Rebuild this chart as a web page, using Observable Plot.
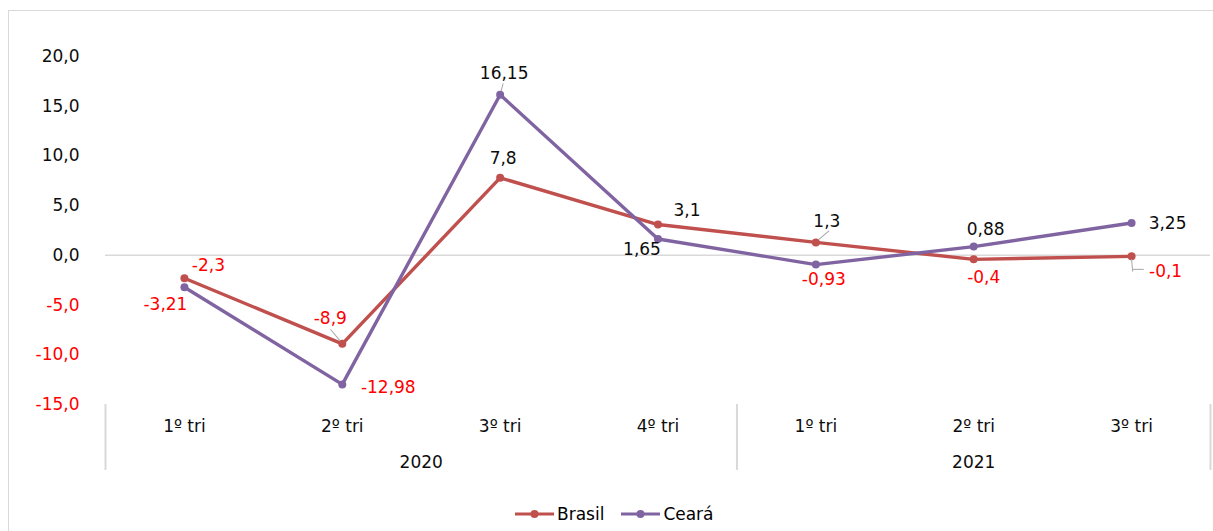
<!DOCTYPE html>
<html>
<head>
<meta charset="utf-8">
<script src="https://cdn.jsdelivr.net/npm/d3@7"></script>
<script src="https://cdn.jsdelivr.net/npm/@observablehq/plot@0.6"></script>
<style>
  html, body { margin: 0; padding: 0; background: #fff; width: 1213px; height: 531px; overflow: hidden; font-family: "DejaVu Sans", sans-serif; }
  #frame { position: absolute; left: 8px; top: 10px; width: 1300px; height: 600px; border-left: 1px solid #d9d9d9; border-top: 1px solid #d9d9d9; }
  #chart { position: absolute; left: 0; top: 0; }
  #legend { position: absolute; left: 515px; top: 504px; display: flex; align-items: center; font-size: 17px; color: #000; }
  #legend .item { display: flex; align-items: center; margin-right: 17px; }
  #legend svg { margin-right: 3px; }
</style>
</head>
<body>
<div id="frame"></div>
<div id="chart"></div>
<div id="legend"></div>
<script>
// Quarterly variation (%), Brasil vs Ceará
const quarters = ["1º tri", "2º tri", "3º tri", "4º tri", "1º tri", "2º tri", "3º tri"];
const years = ["2020", "2020", "2020", "2020", "2021", "2021", "2021"];
const brasil = [-2.3, -8.9, 7.8, 3.1, 1.3, -0.4, -0.1];
const ceara = [-3.21, -12.98, 16.15, 1.65, -0.93, 0.88, 3.25];
const yTicks = [-15, -10, -5, 0, 5, 10, 15, 20];
const seriesNames = ["Brasil", "Ceará"];
const seriesColors = ["#C0504D", "#8064A2"];

// Label placement: pixel offsets of each value label from its point
const brasilLabelOffsets = [[24, -13], [-12, -25], [3, -19], [29, -14], [11, -21], [10, 18], [34, 15]];
const cearaLabelOffsets = [[-19, 17], [46, 3], [4, -21], [-16, 11], [8, 15], [12, -17], [36, 1]];

// Thin leader lines from a few labels to their points
const leaders = [
  {series: "Brasil", i: 1, dx: -3, dy: -4, rotate: -40, length: 11},
  {series: "Ceará", i: 2, dx: 1, dy: -4, rotate: 15, length: 6},
  {series: "Brasil", i: 4, dx: 3, dy: -3, rotate: 50, length: 11},
  {series: "Brasil", i: 6, dx: 0, dy: 3, rotate: 175, length: 10},
  {series: "Brasil", i: 6, dx: 1, dy: 13, rotate: 90, length: 9}
];

const seriesValues = {Brasil: brasil, "Ceará": ceara};
const labelOffsets = {Brasil: brasilLabelOffsets, "Ceará": cearaLabelOffsets};
const colorOf = Object.fromEntries(seriesNames.map((s, k) => [s, seriesColors[k]]));

const rows = quarters.map((q, i) => ({i, q, year: years[i]}));
const points = seriesNames.flatMap(s => seriesValues[s].map((v, i) => ({series: s, i, v})));

// Year groups: span of quarter indexes per year
const yearGroups = d3.groups(rows, d => d.year).map(([year, rs]) => ({
  year, start: rs[0].i - 0.5, end: rs[rs.length - 1].i + 0.5, mid: (rs[0].i + rs[rs.length - 1].i) / 2
}));
const separators = [...new Set(yearGroups.flatMap(g => [g.start, g.end]))];

const fmtTick = d => d3.format(".1f")(d).replace(".", ",").replace("−", "-");
const fmtVal = v => String(v).replace(".", ",");
const red = "#FF0000";
const ink = "#0d0d0d";

const labelMarks = points.map(p => {
  const [dx, dy] = labelOffsets[p.series][p.i];
  return Plot.text([p], {
    x: "i", y: "v", text: d => fmtVal(d.v), dx, dy,
    fill: p.v < 0 ? red : ink, fontSize: 17
  });
});

const leaderShape = {draw(context, l) { context.moveTo(0, 0); context.lineTo(0, -l); }};
const leaderMarks = leaders.map(l => Plot.vector([{i: l.i, v: seriesValues[l.series][l.i]}], {
  x: "i", y: "v", length: () => l.length, rotate: () => l.rotate, anchor: "start",
  shape: leaderShape, dx: l.dx, dy: l.dy, stroke: "#a6a6a6", strokeWidth: 1
}));

const chart = Plot.plot({
  width: 1213,
  height: 490,
  marginTop: 56,
  marginBottom: 86,
  marginLeft: 105,
  marginRight: 3,
  x: {type: "linear", domain: [-0.5, quarters.length - 0.5], axis: null},
  y: {domain: [yTicks[0], yTicks[yTicks.length - 1]], axis: null},
  style: {fontFamily: "DejaVu Sans", fontSize: "17px", background: "transparent", overflow: "visible"},
  marks: [
    // zero line
    Plot.ruleY([0], {stroke: "#d9d9d9", strokeWidth: 1.5}),
    // y tick labels
    Plot.text(yTicks, {
      y: d => d, text: fmtTick, frameAnchor: "left", textAnchor: "end", dx: -26,
      fill: d => d < 0 ? red : ink, fontSize: 17
    }),
    // group separators below the plot
    Plot.ruleX(separators, {x: d => d, stroke: "#d9d9d9", strokeWidth: 2, insetTop: 348, insetBottom: -66}),
    // quarter labels and year labels
    Plot.text(rows, {x: "i", text: "q", frameAnchor: "bottom", lineAnchor: "middle", dy: 22, fill: ink, fontSize: 17}),
    Plot.text(yearGroups, {x: "mid", text: "year", frameAnchor: "bottom", lineAnchor: "middle", dy: 58, fill: ink, fontSize: 17}),
    // series lines and markers
    Plot.line(points, {x: "i", y: "v", z: "series", stroke: d => colorOf[d.series], strokeWidth: 3.4}),
    Plot.dot(points, {x: "i", y: "v", fill: d => colorOf[d.series], r: 4}),
    ...leaderMarks,
    ...labelMarks
  ]
});
document.getElementById("chart").appendChild(chart);

// Legend
const legend = document.getElementById("legend");
seriesNames.forEach((s, k) => {
  const item = document.createElement("div");
  item.className = "item";
  item.innerHTML = `<svg width="39" height="12"><line x1="0" y1="6" x2="39" y2="6" stroke="${seriesColors[k]}" stroke-width="3.2"/><circle cx="19.5" cy="6" r="4" fill="${seriesColors[k]}"/></svg><span>${s}</span>`;
  legend.appendChild(item);
});
</script>
</body>
</html>
